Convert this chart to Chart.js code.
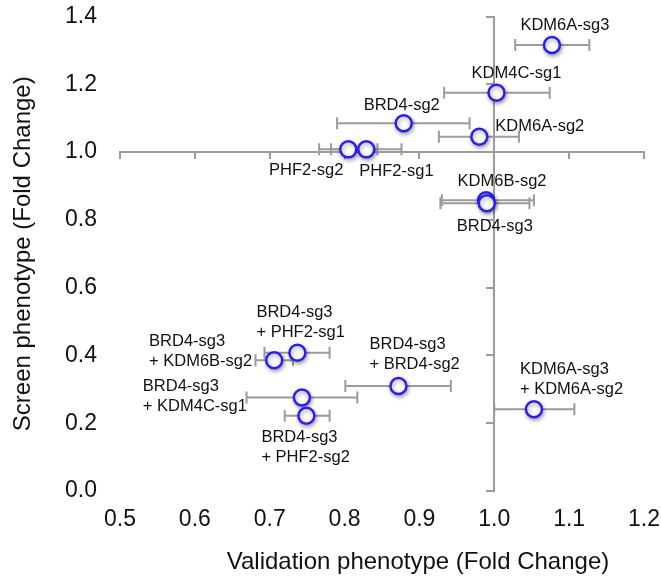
<!DOCTYPE html>
<html>
<head>
<meta charset="utf-8">
<script src="https://cdn.jsdelivr.net/npm/chart.js@4"></script>
<style>
  html, body { margin: 0; padding: 0; background: #fff; }
</style>
</head>
<body>
<canvas id="chart" width="661" height="577"></canvas>
<script>
// Guides and their fold changes
const names = [
    'KDM6A-sg3',
    'KDM4C-sg1',
    'BRD4-sg2',
    'KDM6A-sg2',
    'PHF2-sg2',
    'PHF2-sg1',
    'KDM6B-sg2',
    'BRD4-sg3',
    'BRD4-sg3\n+ PHF2-sg1',
    'BRD4-sg3\n+ KDM6B-sg2',
    'BRD4-sg3\n+ KDM4C-sg1',
    'BRD4-sg3\n+ PHF2-sg2',
    'BRD4-sg3\n+ BRD4-sg2',
    'KDM6A-sg3\n+ KDM6A-sg2'
];
const validation     = [1.077, 1.003, 0.879, 0.980, 0.805, 0.829, 0.989, 0.990, 0.737, 0.706, 0.743, 0.749, 0.872, 1.053];
const screen         = [1.316, 1.175, 1.085, 1.045, 1.008, 1.008, 0.858, 0.849, 0.408, 0.386, 0.276, 0.222, 0.310, 0.241];
const validationLow  = [1.028, 0.933, 0.790, 0.926, 0.766, 0.782, 0.930, 0.928, 0.693, 0.681, 0.669, 0.720, 0.801, 1.000];
const validationHigh = [1.127, 1.074, 0.967, 1.033, 0.844, 0.876, 1.053, 1.047, 0.780, 0.731, 0.817, 0.780, 0.942, 1.107];

const xTicks = [0.5, 0.6, 0.7, 0.8, 0.9, 1.0, 1.1, 1.2];
const yTicks = [0.0, 0.2, 0.4, 0.6, 0.8, 1.0, 1.2, 1.4];

// where each label sits relative to its point (pixels); 'block' = right edge of a left-aligned block
const labelPlacement = [
    { align: 'center', dx: 13,  dy: -20 },
    { align: 'center', dx: 20,  dy: -19 },
    { align: 'center', dx: -2,  dy: -18 },
    { align: 'left',   dx: 16,  dy: -10 },
    { align: 'right',  dx: -5,  dy: 21 },
    { align: 'left',   dx: -7,  dy: 22 },
    { align: 'center', dx: 16,  dy: -19 },
    { align: 'center', dx: 8,   dy: 23 },
    { align: 'left',   dx: -41, dy: -40 },
    { align: 'block',  dx: -22, dy: -19 },
    { align: 'block',  dx: -55, dy: -11 },
    { align: 'left',   dx: -45, dy: 22 },
    { align: 'left',   dx: -29, dy: -41 },
    { align: 'left',   dx: -14, dy: -40 }
];

const FONT = 'Arial, "Liberation Sans", Helvetica, sans-serif';
const AXIS_GREY = '#9c9c9c';
const BLUE = '#2b1ef2';

Chart.defaults.font.family = FONT;
Chart.defaults.color = '#111';

const setTicks = (list) => (scale) => {
    scale.ticks = list.map(v => ({ value: v }));
};

// horizontal error bars behind the circles
const errorBars = {
    id: 'errorBars',
    beforeDatasetsDraw(chart) {
        const { ctx, scales: { x, y } } = chart;
        ctx.save();
        ctx.strokeStyle = AXIS_GREY;
        ctx.lineWidth = 2;
        names.forEach((_, i) => {
            const x0 = x.getPixelForValue(validationLow[i]);
            const x1 = x.getPixelForValue(validationHigh[i]);
            const yp = y.getPixelForValue(screen[i]);
            ctx.beginPath();
            ctx.moveTo(x0, yp);
            ctx.lineTo(x1, yp);
            ctx.moveTo(x0, yp - 6);
            ctx.lineTo(x0, yp + 6);
            ctx.moveTo(x1, yp - 6);
            ctx.lineTo(x1, yp + 6);
            ctx.stroke();
        });
        ctx.restore();
    }
};

// soft drop shadow under the circles
const pointShadow = {
    id: 'pointShadow',
    beforeDatasetDraw(chart) {
        const ctx = chart.ctx;
        ctx.save();
        ctx.shadowColor = 'rgba(0, 0, 0, 0.35)';
        ctx.shadowBlur = 4;
        ctx.shadowOffsetX = 1;
        ctx.shadowOffsetY = 2;
    },
    afterDatasetDraw(chart) {
        chart.ctx.restore();
    }
};

const pointLabels = {
    id: 'pointLabels',
    afterDatasetsDraw(chart) {
        const { ctx, scales: { x, y } } = chart;
        ctx.save();
        ctx.font = '16.5px ' + FONT;
        ctx.fillStyle = '#111';
        ctx.textBaseline = 'middle';
        names.forEach((name, i) => {
            const lines = name.split('\n');
            const p = labelPlacement[i];
            let tx = x.getPixelForValue(validation[i]) + p.dx;
            const ty = y.getPixelForValue(screen[i]) + p.dy;
            if (p.align === 'block') {
                const w = Math.max(...lines.map(l => ctx.measureText(l).width));
                tx -= w;
                ctx.textAlign = 'left';
            } else {
                ctx.textAlign = p.align;
            }
            lines.forEach((l, k) => ctx.fillText(l, tx, ty + k * 20));
        });
        ctx.restore();
    }
};

// x title sits a bit right of the plot centre in the original
const xTitle = {
    id: 'xTitle',
    afterDraw(chart) {
        const { ctx, chartArea } = chart;
        ctx.save();
        ctx.font = '24px ' + FONT;
        ctx.fillStyle = '#111';
        ctx.textAlign = 'center';
        ctx.textBaseline = 'middle';
        ctx.fillText('Validation phenotype (Fold Change)', (chartArea.left + chartArea.right) / 2 + 36, 562);
        ctx.restore();
    }
};

const ctx = document.getElementById('chart').getContext('2d');
new Chart(ctx, {
    type: 'scatter',
    data: {
        datasets: [{
            data: validation.map((v, i) => ({ x: v, y: screen[i] })),
            pointRadius: 8,
            pointHoverRadius: 8,
            pointBorderWidth: 2.5,
            pointBorderColor: BLUE,
            pointBackgroundColor: '#fff',
            clip: false
        }]
    },
    options: {
        responsive: false,
        animation: false,
        layout: { padding: { left: 4, top: 16.5, right: 17, bottom: 0 } },
        plugins: {
            legend: { display: false },
            tooltip: { enabled: false }
        },
        scales: {
            x: {
                type: 'linear',
                min: 0.5,
                max: 1.2,
                afterBuildTicks: setTicks(xTicks),
                grid: { display: false, drawTicks: false },
                border: { display: false },
                ticks: {
                    font: { size: 23 },
                    padding: 15,
                    maxRotation: 0,
                    autoSkip: false,
                    callback: v => v.toFixed(1)
                },
                afterFit: (scale) => {
                    scale.height = 86;
                    scale.paddingLeft = 0;
                    scale.paddingRight = 0;
                }
            },
            y: {
                type: 'linear',
                min: 0,
                max: 1.4,
                afterBuildTicks: setTicks(yTicks),
                grid: { display: false, drawTicks: false },
                border: { display: false },
                ticks: {
                    font: { size: 23 },
                    padding: 23,
                    autoSkip: false,
                    callback: v => v.toFixed(1)
                },
                title: {
                    display: true,
                    text: 'Screen phenotype (Fold Change)',
                    font: { size: 24 },
                    padding: { top: 5, bottom: 0 }
                },
                afterFit: (scale) => {
                    scale.width = 116;
                    scale.paddingTop = 0;
                    scale.paddingBottom = 0;
                }
            },
            // axes crossing at (1.0, 1.0)
            x2: {
                type: 'linear',
                axis: 'x',
                position: { y: 1 },
                min: 0.5,
                max: 1.2,
                afterBuildTicks: setTicks(xTicks),
                ticks: { display: false },
                grid: { display: true, drawOnChartArea: false, drawTicks: true, tickLength: 6, color: AXIS_GREY, lineWidth: 2 },
                border: { display: true, color: AXIS_GREY, width: 2 }
            },
            y2: {
                type: 'linear',
                axis: 'y',
                position: { x: 1 },
                min: 0,
                max: 1.4,
                afterBuildTicks: setTicks(yTicks),
                ticks: { display: false },
                grid: { display: true, drawOnChartArea: false, drawTicks: true, tickLength: 7, color: AXIS_GREY, lineWidth: 2 },
                border: { display: true, color: AXIS_GREY, width: 2 }
            }
        }
    },
    plugins: [errorBars, pointShadow, pointLabels, xTitle]
});
</script>
</body>
</html>
